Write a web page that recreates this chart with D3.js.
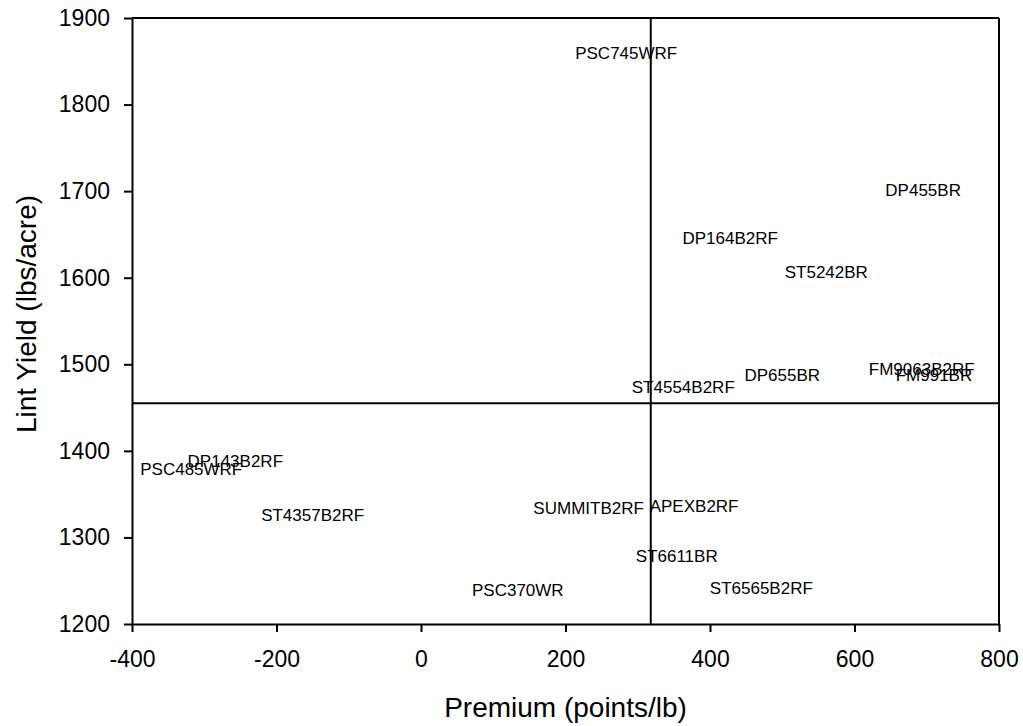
<!DOCTYPE html>
<html>
<head>
<meta charset="utf-8">
<title>Lint Yield vs Premium</title>
<script src="https://d3js.org/d3.v7.min.js"></script>
<style>
body {
  margin: 0px;
  background: #fff;
}
text {
  font-family: "Liberation Sans", Arial, sans-serif;
  fill: #000;
}
.axis path, .axis line {
  stroke: #000;
  stroke-width: 2px;
}
.axis text {
  font-size: 23px;
}
.variety {
  font-size: 17px;
  text-anchor: middle;
}
.refline {
  stroke: #000;
  stroke-width: 2px;
}
</style>
</head>
<body>
<script>

// Varieties, premium (points/lb) and lint yield (lbs/acre)
var varieties = ["PSC745WRF", "DP455BR", "DP164B2RF", "ST5242BR", "FM9063B2RF", "FM991BR",
                 "DP655BR", "ST4554B2RF", "DP143B2RF", "PSC485WRF", "ST4357B2RF", "SUMMITB2RF",
                 "APEXB2RF", "ST6611BR", "PSC370WR", "ST6565B2RF"];
var premium = [284, 695, 428, 561, 693, 710, 500, 363, -257, -318, -150, 232, 378, 354, 134, 471];
var yieldLbs = [1860, 1701, 1646, 1607, 1495, 1488, 1488, 1474, 1389, 1379, 1326, 1334, 1337, 1279, 1239, 1242];

// Mean lines
var meanPremium = 318;
var meanYield = 1455;

var xTicks = [-400, -200, 0, 200, 400, 600, 800];
var yTicks = [1200, 1300, 1400, 1500, 1600, 1700, 1800, 1900];

var width = 1023, height = 726;
var margin = {top: 18, right: 24, bottom: 102, left: 132};
var w = width - margin.left - margin.right,
    h = height - margin.top - margin.bottom;

var svg = d3.select("body").append("svg")
    .attr("width", width)
    .attr("height", height);

var g = svg.append("g")
    .attr("transform", "translate(" + margin.left + "," + margin.top + ")");

var x = d3.scaleLinear().domain([-400, 800]).range([0, w]);
var y = d3.scaleLinear().domain([1200, 1900]).range([h, 0]);

// plain labels, hyphen minus and no thousands separator
var plain = function(d) { return String(d); };

// frame top and right
g.append("line").attr("class", "refline")
    .attr("x1", 0).attr("x2", w).attr("y1", 0).attr("y2", 0);
g.append("line").attr("class", "refline")
    .attr("x1", w).attr("x2", w).attr("y1", 0).attr("y2", h);

// axes
g.append("g")
    .attr("class", "axis")
    .attr("transform", "translate(0," + h + ")")
    .call(d3.axisBottom(x).tickValues(xTicks).tickFormat(plain)
      .tickSize(8).tickSizeOuter(0).tickPadding(19));

g.append("g")
    .attr("class", "axis")
    .call(d3.axisLeft(y).tickValues(yTicks).tickFormat(plain)
      .tickSize(8).tickSizeOuter(0).tickPadding(14));

// mean lines
g.append("line").attr("class", "refline")
    .attr("x1", x(meanPremium)).attr("x2", x(meanPremium))
    .attr("y1", 0).attr("y2", h);
g.append("line").attr("class", "refline")
    .attr("x1", 0).attr("x2", w)
    .attr("y1", y(meanYield)).attr("y2", y(meanYield));

// variety labels
g.selectAll("text.variety")
    .data(varieties)
  .enter().append("text")
    .attr("class", "variety")
    .attr("x", function(d, i) { return x(premium[i]); })
    .attr("y", function(d, i) { return y(yieldLbs[i]); })
    .attr("dy", "0.36em")
    .text(function(d) { return d; });

// axis titles
svg.append("text")
    .attr("x", margin.left + w / 2)
    .attr("y", 717)
    .attr("text-anchor", "middle")
    .style("font-size", "28px")
    .text("Premium (points/lb)");

svg.append("text")
    .attr("transform", "translate(36,314) rotate(-90)")
    .attr("text-anchor", "middle")
    .style("font-size", "28px")
    .text("Lint Yield (lbs/acre)");

</script>
</body>
</html>
